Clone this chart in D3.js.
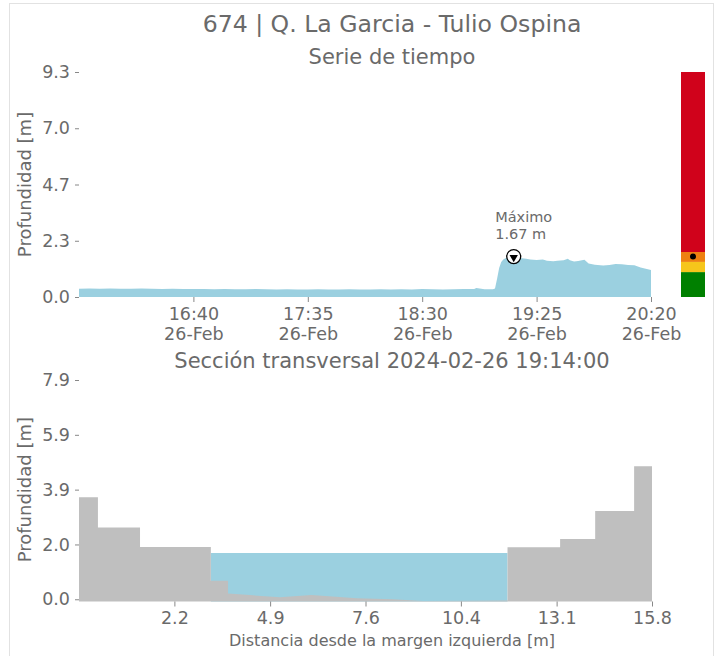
<!DOCTYPE html>
<html>
<head>
<meta charset="utf-8">
<script src="https://cdn.jsdelivr.net/npm/d3@7"></script>
<style>
  body { margin: 0; background: #fff; }
  text { font-family: "DejaVu Sans", sans-serif; fill: #6a6a6a; }
</style>
</head>
<body>
<div id="chart"></div>
<script>
// --- data ---
const stationTitle = "674 | Q. La Garcia - Tulio Ospina";
const day = "2024-02-26";

const times = [
  "15:45","15:50","15:55","16:00","16:05","16:10","16:15","16:20","16:25","16:30",
  "16:35","16:40","16:45","16:50","16:55","17:00","17:05","17:10","17:15","17:20",
  "17:25","17:30","17:35","17:40","17:45","17:50","17:55","18:00","18:05","18:10",
  "18:15","18:20","18:25","18:30","18:35","18:40","18:45","18:50","18:55","18:56",
  "19:00","19:04","19:05","19:06","19:07","19:08","19:09","19:10","19:12","19:14",
  "19:16","19:18","19:20","19:22","19:25","19:28","19:30","19:33","19:35","19:38",
  "19:40","19:41","19:43","19:45","19:48","19:50","19:53","19:57","20:00","20:03",
  "20:06","20:09","20:12","20:15","20:18","20:20"
];
const depth = [
  0.34,0.35,0.34,0.35,0.34,0.34,0.35,0.34,0.33,0.34,
  0.33,0.33,0.33,0.32,0.33,0.32,0.32,0.33,0.32,0.31,
  0.32,0.31,0.31,0.32,0.31,0.31,0.32,0.31,0.31,0.32,
  0.31,0.32,0.31,0.33,0.32,0.31,0.32,0.33,0.33,0.37,
  0.32,0.32,0.35,0.75,1.20,1.45,1.55,1.60,1.64,1.67,
  1.63,1.60,1.58,1.55,1.53,1.55,1.50,1.48,1.50,1.52,
  1.58,1.52,1.47,1.49,1.54,1.38,1.33,1.30,1.32,1.36,
  1.35,1.32,1.31,1.22,1.16,1.12
];
const timeTicks = ["16:40","17:35","18:30","19:25","20:20"];
const depthTicks = [0, 2.325, 4.65, 6.975, 9.3];
const depthTickLabels = ["0.0","2.3","4.7","7.0","9.3"];

const alertLevels = [0, 1.03, 1.45, 1.86, 9.3];
const alertColors = ["#008000", "#f6c61b", "#ee8010", "#d0021b"];

const sectionTime = "19:14";
const bedDist  = [-0.54, 0.0, 0.0, 1.2, 1.2, 3.22, 3.22, 3.71, 3.71, 4.33, 5.19, 6.09, 7.38, 8.4, 9.27, 10.6, 11.68, 11.68, 13.18, 13.18, 14.18, 14.18, 15.29, 15.29, 15.8];
const bedDepth = [3.68, 3.68, 2.59, 2.59, 1.88, 1.88, 0.67, 0.67, 0.21, 0.15, 0.07, 0.15, 0.04, 0.0, -0.06, -0.05, -0.04, 1.87, 1.87, 2.17, 2.17, 3.18, 3.18, 4.79, 4.79];
const waterEdges = [3.22, 11.68];
const sectionXTicks = [2.18, 4.91, 7.63, 10.35, 13.08, 15.8];
const sectionXTickLabels = ["2.2","4.9","7.6","10.4","13.1","15.8"];
const sectionYTicks = [0, 1.975, 3.95, 5.925, 7.9];
const sectionYTickLabels = ["0.0","2.0","3.9","5.9","7.9"];

// --- setup ---
const width = 721, height = 656;
const blue = "#9bd0e0", gray = "#bfbfbf";
const parse = d3.timeParse("%Y-%m-%d %H:%M");

const series = times.map((t, i) => ({ t: parse(day + " " + t), v: depth[i] }));
const bed = bedDist.map((d, i) => ({ d: d, v: bedDepth[i] }));

const svg = d3.select("#chart").append("svg")
  .attr("width", width)
  .attr("height", height);

svg.append("rect")
  .attr("width", width).attr("height", height)
  .attr("fill", "#fff");

svg.append("rect")
  .attr("x", 9.5).attr("y", 3.5)
  .attr("width", 704).attr("height", 720)
  .attr("fill", "none")
  .attr("stroke", "#e2e2e2");

svg.append("text")
  .attr("x", 392).attr("y", 31.5)
  .attr("text-anchor", "middle")
  .style("font-size", "23.6px")
  .text(stationTitle);

svg.append("text")
  .attr("x", 392).attr("y", 64)
  .attr("text-anchor", "middle")
  .style("font-size", "21px")
  .text("Serie de tiempo");

function styleAxis(g) {
  g.select(".domain").remove();
  g.selectAll(".tick line").attr("stroke", "#888");
  g.selectAll(".tick text").style("font-size", "17.5px").attr("fill", "#6a6a6a");
}

// --- top: time series ---
const xT = d3.scaleTime()
  .domain(d3.extent(series, d => d.t))
  .range([79, 651]);
const yT = d3.scaleLinear()
  .domain([0, d3.max(alertLevels)])
  .range([297, 72]);

svg.append("path")
  .datum(series)
  .attr("fill", blue)
  .attr("d", d3.area()
    .x(d => xT(d.t))
    .y0(yT(0))
    .y1(d => yT(d.v)));

svg.append("g")
  .attr("transform", "translate(79,0)")
  .call(d3.axisLeft(yT)
    .tickValues(depthTicks)
    .tickFormat((d, i) => depthTickLabels[i])
    .tickSize(4)
    .tickPadding(5))
  .call(styleAxis);

const xAxisT = svg.append("g")
  .attr("transform", "translate(0,297)")
  .call(d3.axisBottom(xT)
    .tickValues(timeTicks.map(t => parse(day + " " + t)))
    .tickFormat("")
    .tickSize(5))
  .call(styleAxis);

xAxisT.selectAll(".tick").each(function(d) {
  const t = d3.select(this).select("text").attr("y", 0).attr("dy", null)
    .attr("text-anchor", "middle");
  t.append("tspan").attr("x", 0).attr("y", 23).text(d3.timeFormat("%H:%M")(d));
  t.append("tspan").attr("x", 0).attr("y", 43).text(d3.timeFormat("%d-%b")(d));
});

svg.append("text")
  .attr("transform", "translate(31," + (yT(0) + yT(d3.max(alertLevels))) / 2 + ") rotate(-90)")
  .attr("text-anchor", "middle")
  .style("font-size", "18px")
  .text("Profundidad [m]");

// maximum marker
const maxPt = series.reduce((a, b) => (b.v > a.v ? b : a));
const mx = xT(maxPt.t), my = yT(maxPt.v);

svg.append("circle")
  .attr("cx", mx).attr("cy", my).attr("r", 7)
  .attr("fill", "#fff")
  .attr("stroke", "#000")
  .attr("stroke-width", 1.3);

svg.append("path")
  .attr("d", d3.symbol().type(d3.symbolTriangle).size(30)())
  .attr("transform", "translate(" + mx + "," + (my + 0.8) + ") rotate(180)")
  .attr("fill", "#000");

const note = svg.append("text")
  .attr("x", mx - 18.5)
  .style("font-size", "14.5px")
  .attr("fill", "#707070");
note.append("tspan").attr("x", mx - 18.5).attr("y", my - 35).text("Máximo");
note.append("tspan").attr("x", mx - 18.5).attr("y", my - 18).text(maxPt.v.toFixed(2) + " m");

// alert colour bar
const bands = alertColors.map((c, i) => ({ lo: alertLevels[i], hi: alertLevels[i + 1], c: c }));
svg.selectAll(".band")
  .data(bands)
  .enter()
  .append("rect")
  .attr("class", "band")
  .attr("x", 681)
  .attr("width", 24)
  .attr("y", d => yT(d.hi))
  .attr("height", d => yT(d.lo) - yT(d.hi))
  .attr("fill", d => d.c);

svg.append("circle")
  .attr("cx", 693).attr("cy", yT(maxPt.v)).attr("r", 3)
  .attr("fill", "#000");

// --- bottom: cross-section ---
svg.append("text")
  .attr("x", 392).attr("y", 368)
  .attr("text-anchor", "middle")
  .style("font-size", "21px")
  .text("Sección transversal " + day + " " + sectionTime + ":00");

const xS = d3.scaleLinear()
  .domain(d3.extent(bedDist))
  .range([79, 652]);
const yS = d3.scaleLinear()
  .domain([d3.min(bedDepth) - 0.02, d3.max(sectionYTicks)])
  .range([601.5, 380]);

const level = series.find(d => d3.timeFormat("%H:%M")(d.t) === sectionTime).v;

svg.append("path")
  .datum(waterEdges)
  .attr("fill", blue)
  .attr("d", d3.area()
    .x(d => xS(d))
    .y0(yS.range()[0])
    .y1(yS(level)));

svg.append("path")
  .datum(bed)
  .attr("fill", gray)
  .attr("d", d3.area()
    .x(d => xS(d.d))
    .y0(yS.range()[0])
    .y1(d => yS(d.v)));

svg.append("g")
  .attr("transform", "translate(79,0)")
  .call(d3.axisLeft(yS)
    .tickValues(sectionYTicks)
    .tickFormat((d, i) => sectionYTickLabels[i])
    .tickSize(4)
    .tickPadding(5))
  .call(styleAxis);

svg.append("g")
  .attr("transform", "translate(0," + yS.range()[0] + ")")
  .call(d3.axisBottom(xS)
    .tickValues(sectionXTicks)
    .tickFormat((d, i) => sectionXTickLabels[i])
    .tickSize(5)
    .tickPadding(5))
  .call(styleAxis);

svg.append("text")
  .attr("transform", "translate(31," + (yS(0) + yS(7.9)) / 2 + ") rotate(-90)")
  .attr("text-anchor", "middle")
  .style("font-size", "18px")
  .text("Profundidad [m]");

svg.append("text")
  .attr("x", 392).attr("y", 645.5)
  .attr("text-anchor", "middle")
  .style("font-size", "16px")
  .text("Distancia desde la margen izquierda [m]");
</script>
</body>
</html>
